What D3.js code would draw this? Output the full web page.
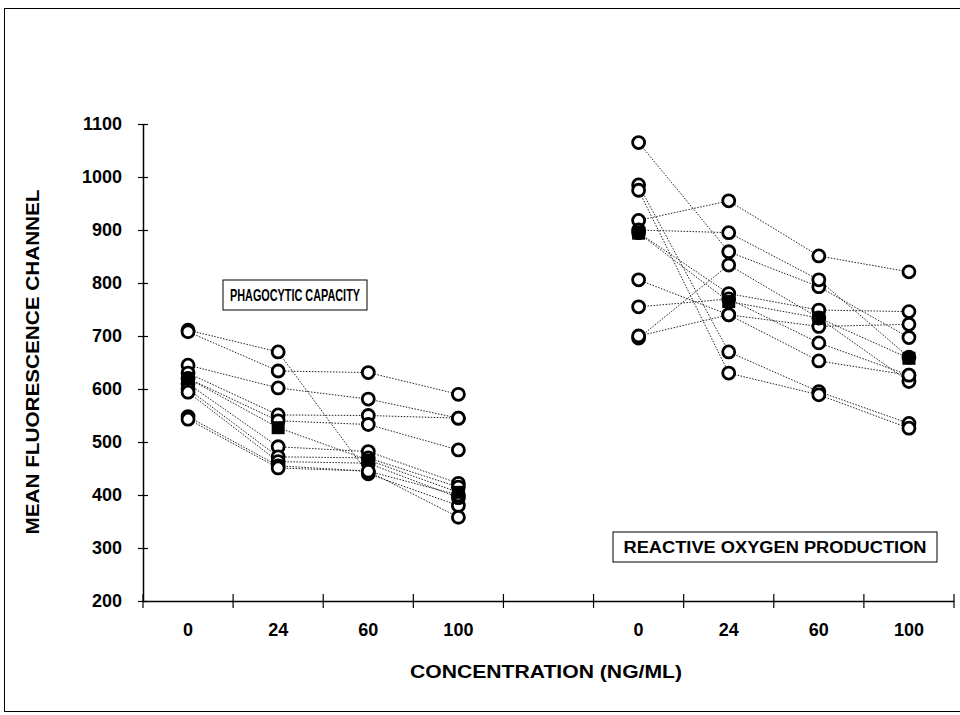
<!DOCTYPE html>
<html>
<head>
<meta charset="utf-8">
<script src="https://cdn.jsdelivr.net/npm/d3@7"></script>
<style>
  body { margin: 0; background: #fff; }
  svg { display: block; font-family: "Liberation Sans", Arial, sans-serif; }
</style>
</head>
<body>
<svg id="chart" width="960" height="715"></svg>
<script>
// concentration slots along the x axis (one empty slot between the panels)
const slots = ["0", "24", "60", "100", "", "0", "24", "60", "100"];
const yTicks = [200, 300, 400, 500, 600, 700, 800, 900, 1000, 1100];

// phagocytic capacity, one row per subject: 0, 24, 60, 100 ng/ml
const phagoSubjects = [
  [711, 670, 440, 380],
  [708, 634, 631, 590],
  [645, 602, 581, 545],
  [630, 551, 550, 545],
  [620, 540, 533, 485],
  [610, 491, 482, 422],
  [600, 472, 470, 415],
  [594, 463, 460, 395],
  [548, 455, 445, 358],
  [543, 451, 445, 400]
];
const phagoMean = [620, 527, 466, 405];

// reactive oxygen production
const rosSubjects = [
  [1065, 859, 793, 697],
  [985, 670, 595, 535],
  [975, 630, 589, 526],
  [918, 955, 851, 821],
  [900, 895, 806, 660],
  [895, 780, 749, 746],
  [806, 740, 718, 722],
  [755, 770, 687, 626],
  [696, 834, 734, 614],
  [700, 740, 653, 626]
];
const rosMean = [894, 765, 734, 658];

const svg = d3.select("#chart");

// outer frame
svg.append("rect")
  .attr("x", 4.5).attr("y", 8.5)
  .attr("width", 960).attr("height", 703)
  .attr("fill", "none").attr("stroke", "#000").attr("stroke-width", 1);

const x = d3.scaleBand().domain(d3.range(slots.length)).range([143, 954]).padding(0);
const y = d3.scaleLinear().domain([200, 1100]).range([601, 124]);

// y axis
const yAxis = svg.append("g")
  .attr("transform", "translate(143,0)")
  .call(d3.axisLeft(y).tickValues(yTicks).tickFormat(d3.format("d")).tickSize(5).tickSizeOuter(0));
yAxis.select(".domain").attr("stroke", "#000").attr("stroke-width", 1.5);
yAxis.selectAll(".tick line").attr("x1", 5).attr("x2", -5).attr("stroke-width", 1.2);
yAxis.selectAll(".tick text")
  .attr("x", -21)
  .style("font-size", "18px").style("font-weight", "bold").attr("fill", "#000");

// x axis: labels at slot centres, ticks at slot boundaries (category axis)
const xAxis = svg.append("g")
  .attr("transform", "translate(0,601)")
  .call(d3.axisBottom(x).tickFormat(i => slots[i]).tickSize(0).tickSizeOuter(0));
xAxis.select(".domain").attr("stroke", "#000").attr("stroke-width", 1.5);
xAxis.selectAll(".tick text")
  .attr("y", 22)
  .style("font-size", "18px").style("font-weight", "bold").attr("fill", "#000");

const bounds = d3.range(slots.length + 1).map(i => i < slots.length ? x(i) : x.range()[1]);
svg.append("g").selectAll("line")
  .data(bounds)
  .join("line")
  .attr("x1", d => d).attr("x2", d => d)
  .attr("y1", 594).attr("y2", 608)
  .attr("stroke", "#000").attr("stroke-width", 1.2);

// axis titles
svg.append("text")
  .attr("x", 546).attr("y", 678)
  .attr("text-anchor", "middle")
  .attr("textLength", 272).attr("lengthAdjust", "spacingAndGlyphs")
  .style("font-size", "18px").style("font-weight", "bold")
  .text("CONCENTRATION (NG/ML)");

svg.append("text")
  .attr("transform", "translate(39,362) rotate(-90)")
  .attr("text-anchor", "middle")
  .attr("textLength", 345).attr("lengthAdjust", "spacingAndGlyphs")
  .style("font-size", "19px").style("font-weight", "bold")
  .text("MEAN FLUORESCENCE CHANNEL");

// panel labels in boxes
function boxLabel(cx, cy, w, h, tw, size, label) {
  const g = svg.append("g");
  g.append("rect")
    .attr("x", cx - w / 2).attr("y", cy - h / 2)
    .attr("width", w).attr("height", h)
    .attr("fill", "#fff").attr("stroke", "#000").attr("stroke-width", 1);
  g.append("text")
    .attr("x", cx).attr("y", cy)
    .attr("dy", "0.36em")
    .attr("text-anchor", "middle")
    .attr("textLength", tw).attr("lengthAdjust", "spacingAndGlyphs")
    .style("font-size", size + "px").style("font-weight", "bold")
    .text(label);
}
boxLabel(295, 295, 144, 30, 130, 17, "PHAGOCYTIC CAPACITY");
boxLabel(775, 547, 324, 30, 303, 16, "REACTIVE OXYGEN PRODUCTION");

// subjects and means
const panels = [
  { offset: 0, subjects: phagoSubjects, mean: phagoMean },
  { offset: 5, subjects: rosSubjects, mean: rosMean }
];
const cx = (p, i) => x(p.offset + i) + x.bandwidth() / 2;
const line = p => d3.line().x((d, i) => cx(p, i)).y(d => y(d));

const marks = svg.append("g");
panels.forEach(p => {
  marks.append("g").selectAll("path")
    .data(p.subjects.concat([p.mean]))
    .join("path")
    .attr("d", line(p))
    .attr("fill", "none")
    .attr("stroke", "#222")
    .attr("stroke-width", 1)
    .attr("stroke-dasharray", "1.5,1.5");
});
panels.forEach(p => {
  const pts = p.subjects.flatMap(s => s.map((v, i) => ({ v, i })));
  marks.append("g").selectAll("circle")
    .data(pts)
    .join("circle")
    .attr("cx", d => cx(p, d.i))
    .attr("cy", d => y(d.v))
    .attr("r", 6)
    .attr("fill", "#fff")
    .attr("stroke", "#000")
    .attr("stroke-width", 2.8);
  marks.append("g").selectAll("rect")
    .data(p.mean)
    .join("rect")
    .attr("x", (d, i) => cx(p, i) - 6.5)
    .attr("y", d => y(d) - 6.5)
    .attr("width", 13).attr("height", 13)
    .attr("fill", "#000");
});
</script>
</body>
</html>
